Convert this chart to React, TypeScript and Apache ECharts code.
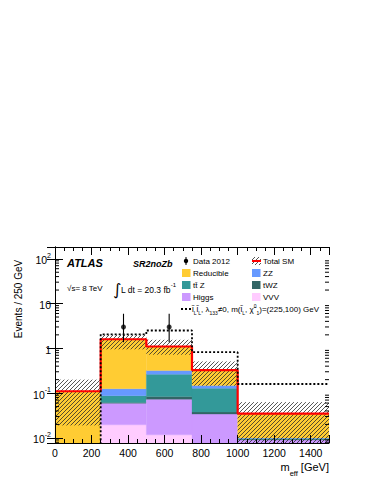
import React, { useEffect, useRef } from "react";
import * as echarts from "echarts";

const FONT = "'Liberation Sans', Arial, Helvetica, sans-serif";

// ---- data ----
const binEdges = [0, 250, 500, 750, 1000, 1500];
const componentNames = ["VVV", "Higgs", "tWZ", "ttZ", "ZZ", "Reducible"];
const vvv = [0, 0.0196, 0.0117, 0.003, 0.001];
const higgs = [0, 0.04, 0.061, 0.031, 0.008];
const twz = [0, 0.002, 0.011, 0.0037, 0.0003];
const ttz = [0, 0.026, 0.18, 0.091, 0.0004];
const zz = [0, 0.038, 0.055, 0.019, 0.0003];
const reducible = [0.11, 1.47, 0.78, 0.18, 0.025];
const bandLow = [0.019, 0.95, 0.72, 0.146, 0.001];
const bandHigh = [0.2, 2.0, 1.55, 0.51, 0.063];
const signal = [0.001, 2.05, 2.5, 0.82, 0.16];
const dataX = [375, 625];
const dataY = [3, 3];
const dataLow = [1.37, 1.37];
const dataHigh = [5.92, 5.92];
const xTickLabels = ["0", "200", "400", "600", "800", "1000", "1200", "1400"];
const yTickValues = [0.01, 0.1, 1, 10, 100];
const yTickLabels = ["{b|10}{s|-2}", "{b|10}{s|-1}", "{b|1}", "{b|10}", "{b|10}{s|2}"];
const yMin = 0.0077;
const yMax = 183;

const colors = ["#ffccff", "#cc99ff", "#336666", "#339999", "#6699ff", "#ffcc33"];
const components = [vvv, higgs, twz, ttz, zz, reducible];

function hatchLines(x0: number, y0: number, x1: number, y1: number, step: number, style: any) {
  const out: any[] = [];
  const cStart = Math.ceil((x0 + y0) / step) * step;
  for (let c = cStart; c <= x1 + y1; c += step) {
    const xa = Math.max(x0, c - y1);
    const xb = Math.min(x1, c - y0);
    if (xb > xa) out.push({ type: "line", shape: { x1: xa, y1: c - xa, x2: xb, y2: c - xb }, style });
  }
  return out;
}

const hatchStyle = { stroke: "#2a2a2a", lineWidth: 0.8 };

export default function App() {
  const ref = useRef<HTMLDivElement>(null);
  useEffect(() => {
    if (!ref.current) return;
    const chart = echarts.init(ref.current, null as any, { renderer: "svg" });

    const stackRows: number[][] = [];
    const totals: number[] = [];
    for (let i = 0; i < binEdges.length - 1; i++) {
      let cum = 0;
      components.forEach((arr, c) => {
        const v = arr[i];
        if (v > 0) stackRows.push([binEdges[i], binEdges[i + 1], Math.max(cum, 1e-6), cum + v, c]);
        cum += v;
      });
      totals.push(cum);
    }
    const totalLine = binEdges.map((x, i) => [x, totals[Math.min(i, totals.length - 1)]]);
    const signalLine = binEdges.map((x, i) => [x, signal[Math.min(i, signal.length - 1)]]);
    const bandRows = bandLow.map((lo, i) => [binEdges[i], binEdges[i + 1], lo, bandHigh[i]]);

    const minorTicks: number[][] = [];
    for (let e = -3; e <= 2; e++) {
      for (let m = 2; m <= 9; m++) {
        const v = m * Math.pow(10, e);
        if (v > yMin && v < yMax) minorTicks.push([0, v]);
      }
    }

    const clampY = (y: number, cs: any) => Math.max(cs.y, Math.min(cs.y + cs.height, y));

    const axisCommon = {
      type: "value",
      min: 0,
      max: 1500,
      splitLine: { show: false },
      z: 10,
    };

    const option: any = {
      animation: false,
      grid: { left: 55, top: 247, width: 274, height: 196 },
      xAxis: [
        {
          ...axisCommon,
          interval: 200,
          position: "bottom",
          axisLine: { show: true, lineStyle: { color: "#000", width: 1 } },
          axisTick: { inside: true, length: 8, lineStyle: { color: "#000" } },
          axisLabel: {
            color: "#000",
            fontSize: 10.5,
            fontFamily: FONT,
            margin: 4,
            formatter: (v: number) => {
              const idx = Math.round(v / 200);
              return v % 200 === 0 && idx < xTickLabels.length ? xTickLabels[idx] : "";
            },
          },
        },
        {
          ...axisCommon,
          interval: 50,
          position: "bottom",
          axisLine: { show: false },
          axisTick: { inside: true, length: 4, lineStyle: { color: "#000" } },
          axisLabel: { show: false },
        },
        {
          ...axisCommon,
          interval: 200,
          position: "top",
          axisLine: { show: true, lineStyle: { color: "#000", width: 1 } },
          axisTick: { inside: true, length: 8, lineStyle: { color: "#000" } },
          axisLabel: { show: false },
        },
        {
          ...axisCommon,
          interval: 50,
          position: "top",
          axisLine: { show: false },
          axisTick: { inside: true, length: 4, lineStyle: { color: "#000" } },
          axisLabel: { show: false },
        },
      ],
      yAxis: [
        {
          type: "log",
          logBase: 10,
          min: yMin,
          max: yMax,
          position: "left",
          splitLine: { show: false },
          z: 10,
          axisLine: { show: true, lineStyle: { color: "#000", width: 1 } },
          axisTick: { inside: true, length: 8, lineStyle: { color: "#000" } },
          axisLabel: {
            color: "#000",
            margin: 4,
            formatter: (v: number) => {
              for (let i = 0; i < yTickValues.length; i++) {
                if (Math.abs(Math.log10(v) - Math.log10(yTickValues[i])) < 1e-6) return yTickLabels[i];
              }
              return "";
            },
            rich: {
              b: { fontSize: 10.5, fontFamily: FONT, color: "#000", lineHeight: 14, verticalAlign: "bottom" },
              s: { fontSize: 7, fontFamily: FONT, color: "#000", lineHeight: 8, verticalAlign: "top" },
            },
          },
        },
        {
          type: "log",
          logBase: 10,
          min: yMin,
          max: yMax,
          position: "right",
          splitLine: { show: false },
          z: 10,
          axisLine: { show: true, lineStyle: { color: "#000", width: 1 } },
          axisTick: { inside: true, length: 8, lineStyle: { color: "#000" } },
          axisLabel: { show: false },
        },
      ],
      series: [
        {
          type: "custom",
          name: "stack",
          z: 2,
          data: stackRows,
          encode: { x: [0, 1], y: [3] },
          renderItem: (params: any, api: any) => {
            const cs = params.coordSys;
            const p0 = api.coord([api.value(0), api.value(2)]);
            const p1 = api.coord([api.value(1), api.value(3)]);
            const c = api.value(4);
            const yb = clampY(p0[1], cs);
            const yt = clampY(p1[1], cs);
            return {
              type: "rect",
              shape: { x: p0[0], y: yt, width: p1[0] - p0[0], height: yb - yt },
              style: { fill: colors[c], stroke: colors[c], lineWidth: 0.3 },
            };
          },
        },
        {
          type: "custom",
          name: "band",
          z: 3,
          data: bandRows,
          encode: { x: [0, 1], y: [3] },
          renderItem: (params: any, api: any) => {
            const cs = params.coordSys;
            const p0 = api.coord([api.value(0), api.value(2)]);
            const p1 = api.coord([api.value(1), api.value(3)]);
            const yb = clampY(p0[1], cs);
            const yt = clampY(p1[1], cs);
            return { type: "group", children: hatchLines(p0[0], yt, p1[0], yb, 4, hatchStyle) };
          },
        },
        {
          type: "line",
          name: "Total SM",
          z: 4,
          step: "end",
          symbol: "none",
          data: totalLine,
          lineStyle: { color: "#ff0000", width: 2.2 },
        },
        {
          type: "line",
          name: "signal",
          z: 5,
          step: "end",
          symbol: "none",
          data: signalLine,
          lineStyle: { color: "#000", width: 1.8, type: [2, 2] },
        },
        {
          type: "custom",
          name: "errors",
          z: 6,
          data: dataX.map((x, i) => [x, dataLow[i], dataHigh[i]]),
          encode: { x: [0], y: [1, 2] },
          renderItem: (params: any, api: any) => {
            const a = api.coord([api.value(0), api.value(1)]);
            const b = api.coord([api.value(0), api.value(2)]);
            return { type: "line", shape: { x1: a[0], y1: a[1], x2: b[0], y2: b[1] }, style: { stroke: "#000", lineWidth: 1.1 } };
          },
        },
        {
          type: "scatter",
          name: "Data 2012",
          z: 7,
          symbol: "circle",
          symbolSize: 5,
          itemStyle: { color: "#000" },
          data: dataX.map((x, i) => [x, dataY[i]]),
        },
        {
          type: "custom",
          name: "minorTicks",
          z: 11,
          data: minorTicks,
          encode: { x: [0], y: [1] },
          renderItem: (params: any, api: any) => {
            const cs = params.coordSys;
            const y = api.coord([0, api.value(1)])[1];
            return {
              type: "group",
              children: [
                { type: "line", shape: { x1: cs.x, y1: y, x2: cs.x + 4, y2: y }, style: { stroke: "#000", lineWidth: 1 } },
                { type: "line", shape: { x1: cs.x + cs.width, y1: y, x2: cs.x + cs.width - 4, y2: y }, style: { stroke: "#000", lineWidth: 1 } },
              ],
            };
          },
        },
      ],
      graphic: [
        {
          type: "text",
          x: 18,
          y: 299,
          rotation: Math.PI / 2,
          style: { text: "Events / 250 GeV", font: `10px ${FONT}`, fill: "#000", textAlign: "center", textVerticalAlign: "middle" },
        },
        {
          type: "text",
          x: 329,
          y: 469,
          style: {
            text: "{n|m}{sub|eff}{n| [GeV]}",
            textAlign: "right",
            textVerticalAlign: "middle",
            rich: {
              n: { fontSize: 11, fontFamily: FONT, fill: "#000", lineHeight: 14, verticalAlign: "top" },
              sub: { fontSize: 7.5, fontFamily: FONT, fill: "#000", lineHeight: 16, verticalAlign: "bottom" },
            },
          },
        },
        {
          type: "text",
          x: 67,
          y: 263,
          style: { text: "ATLAS", font: `italic bold 11px ${FONT}`, fill: "#000", textVerticalAlign: "middle" },
        },
        {
          type: "text",
          x: 133,
          y: 264,
          style: { text: "SR2noZb", font: `italic bold 9px ${FONT}`, fill: "#000", textVerticalAlign: "middle" },
        },
        {
          type: "text",
          x: 67,
          y: 288,
          style: { text: "\u221As= 8 TeV", font: `8px ${FONT}`, fill: "#000", textVerticalAlign: "middle" },
        },
        {
          type: "text",
          x: 113,
          y: 289,
          style: { text: "\u222B", font: `16px 'DejaVu Sans', ${FONT}`, fill: "#000", textVerticalAlign: "middle" },
        },
        {
          type: "text",
          x: 121,
          y: 288,
          style: {
            text: "{n|L dt = 20.3 fb}{s|-1}",
            textVerticalAlign: "middle",
            rich: {
              n: { fontSize: 8.5, fontFamily: FONT, fill: "#000", lineHeight: 12, verticalAlign: "bottom" },
              s: { fontSize: 6, fontFamily: FONT, fill: "#000", lineHeight: 7, verticalAlign: "top" },
            },
          },
        },
        // legend
        { type: "line", shape: { x1: 186, y1: 257, x2: 186, y2: 265 }, style: { stroke: "#000", lineWidth: 1 } },
        { type: "circle", shape: { cx: 186, cy: 261, r: 2.2 }, style: { fill: "#000" } },
        { type: "text", x: 193, y: 261, style: { text: "Data 2012", font: `8px ${FONT}`, fill: "#000", textVerticalAlign: "middle" } },
        { type: "group", children: hatchLines(252, 257, 261, 265, 4, hatchStyle) },
        { type: "line", shape: { x1: 252, y1: 261, x2: 261, y2: 261 }, style: { stroke: "#ff0000", lineWidth: 2 } },
        { type: "text", x: 263, y: 261, style: { text: "Total SM", font: `8px ${FONT}`, fill: "#000", textVerticalAlign: "middle" } },
        { type: "rect", shape: { x: 182, y: 269, width: 8.5, height: 8 }, style: { fill: colors[5] } },
        { type: "text", x: 193, y: 273, style: { text: "Reducible", font: `8px ${FONT}`, fill: "#000", textVerticalAlign: "middle" } },
        { type: "rect", shape: { x: 252, y: 269, width: 8.5, height: 8 }, style: { fill: colors[4] } },
        { type: "text", x: 263, y: 273, style: { text: "ZZ", font: `8px ${FONT}`, fill: "#000", textVerticalAlign: "middle" } },
        { type: "rect", shape: { x: 182, y: 281, width: 8.5, height: 8 }, style: { fill: colors[3] } },
        { type: "text", x: 193, y: 285, style: { text: "tt\u0304 Z", font: `8px ${FONT}`, fill: "#000", textVerticalAlign: "middle" } },
        { type: "rect", shape: { x: 252, y: 281, width: 8.5, height: 8 }, style: { fill: colors[2] } },
        { type: "text", x: 263, y: 285, style: { text: "tWZ", font: `8px ${FONT}`, fill: "#000", textVerticalAlign: "middle" } },
        { type: "rect", shape: { x: 182, y: 293, width: 8.5, height: 8 }, style: { fill: colors[1] } },
        { type: "text", x: 193, y: 297, style: { text: "Higgs", font: `8px ${FONT}`, fill: "#000", textVerticalAlign: "middle" } },
        { type: "rect", shape: { x: 252, y: 293, width: 8.5, height: 8 }, style: { fill: colors[0] } },
        { type: "text", x: 263, y: 297, style: { text: "VVV", font: `8px ${FONT}`, fill: "#000", textVerticalAlign: "middle" } },
        { type: "line", shape: { x1: 181, y1: 309, x2: 191, y2: 309 }, style: { stroke: "#000", lineWidth: 1.8, lineDash: [2, 2] } },
        {
          type: "text",
          x: 192,
          y: 309,
          style: {
            text: "{n|l\u0303}{sub|L}{n|l\u0303}{sub|L}{n|, \u03BB}{sub|133}{n|\u22600, m(l\u0303}{sub|L}{n|, \u03C7\u0303}{sup|0}{sub|1}{n|)=(225,100) GeV}",
            textVerticalAlign: "middle",
            rich: {
              n: { fontSize: 8, fontFamily: FONT, fill: "#000", lineHeight: 12 },
              sub: { fontSize: 5, fontFamily: FONT, fill: "#000", lineHeight: 6, verticalAlign: "bottom" },
              sup: { fontSize: 5, fontFamily: FONT, fill: "#000", lineHeight: 6, verticalAlign: "top" },
            },
          },
        },
      ],
    };
    chart.setOption(option);
    return () => chart.dispose();
  }, []);
  return <div ref={ref} style={{ position: "fixed", left: 0, top: 0, width: 374, height: 484, background: "#fff" }} />;
}
